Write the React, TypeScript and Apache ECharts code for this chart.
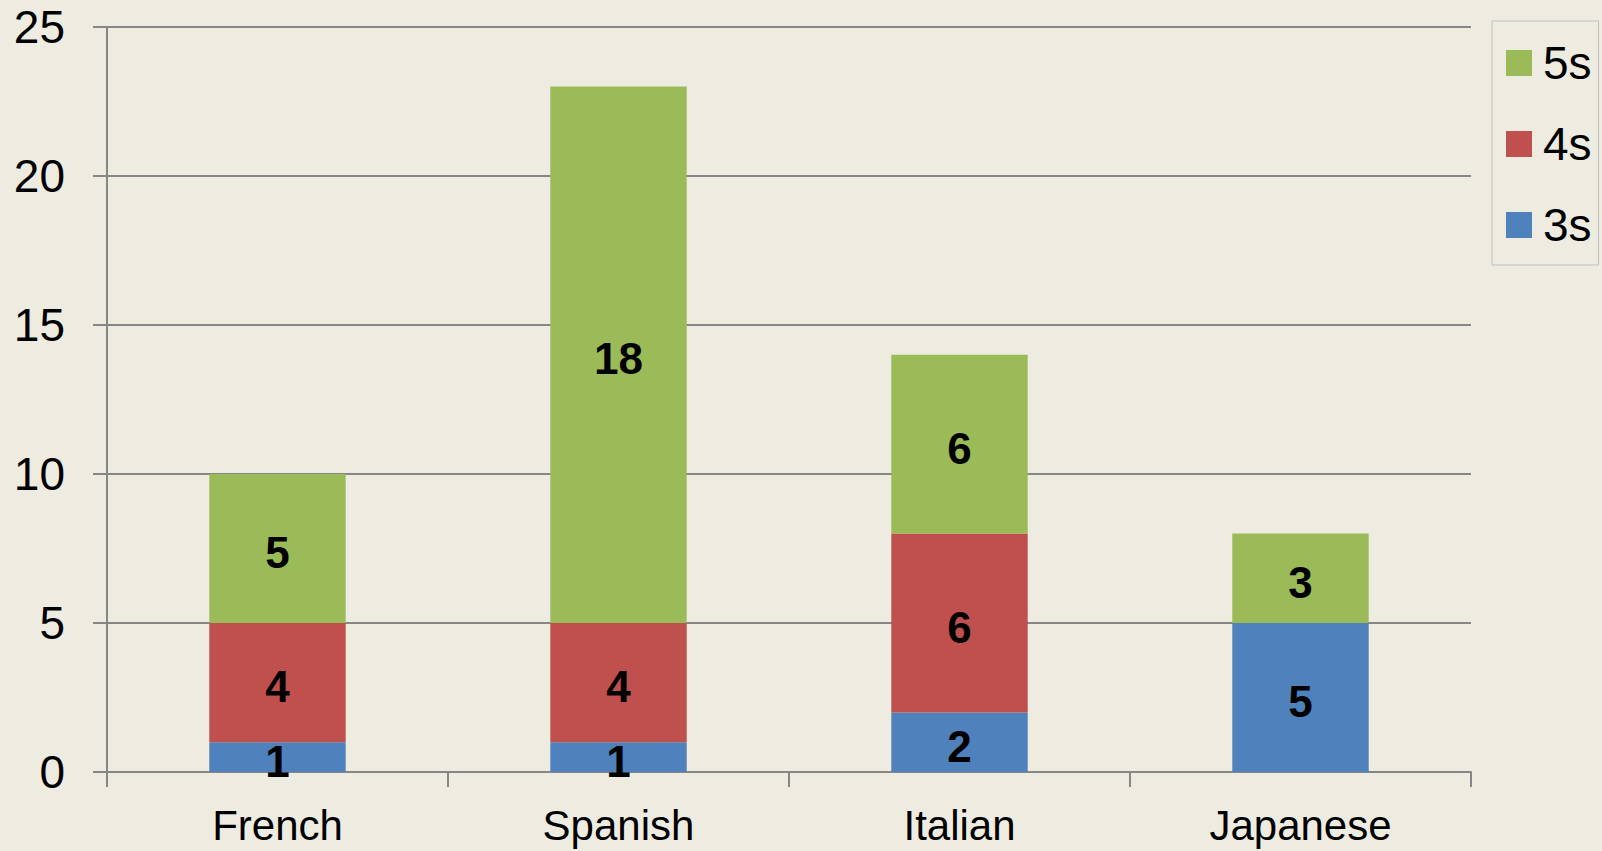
import React, { useEffect, useRef } from "react";
import * as echarts from "echarts";

const categories = ["French", "Spanish", "Italian", "Japanese"];
const seriesNames = ["3s", "4s", "5s"];
const values3s: (number | null)[] = [1, 1, 2, 5];
const values4s: (number | null)[] = [4, 4, 6, null];
const values5s: (number | null)[] = [5, 18, 6, 3];
const legendOrder = ["5s", "4s", "3s"];
const colors = ["#4F81BD", "#C0504D", "#9BBB59"];

const FONT = "'Liberation Sans', Arial, sans-serif";

export default function App() {
  const ref = useRef<HTMLDivElement>(null);
  useEffect(() => {
    if (!ref.current) return;
    const chart = echarts.init(ref.current, undefined, { renderer: "svg" });
    const data = [values3s, values4s, values5s];
    const series = seriesNames.map((name, i) => ({
      name,
      type: "bar" as const,
      stack: "total",
      barCategoryGap: "60%",
      itemStyle: { color: colors[i] },
      label: {
        show: true,
        position: "inside" as const,
        color: "#000",
        fontWeight: "bold" as const,
        fontSize: 44,
        fontFamily: FONT,
        offset: [0, 4],
        formatter: (p: any) => (p.value == null ? "" : String(p.value)),
      },
      data: data[i],
    }));
    chart.setOption({
      animation: false,
      backgroundColor: "#EEECE1",
      textStyle: { fontFamily: FONT },
      grid: { left: 107, right: 131, top: 27, bottom: 79, containLabel: false },
      legend: {
        orient: "vertical",
        left: 1492,
        top: 21,
        padding: [19, 7, 17, 14],
        borderColor: "#BFBFBF",
        borderWidth: 1,
        itemWidth: 26,
        itemHeight: 26,
        itemGap: 35,
        icon: "rect",
        data: legendOrder,
        textStyle: {
          fontSize: 46,
          lineHeight: 46,
          color: "#000",
          fontFamily: FONT,
          padding: [0, 0, 0, 6],
        },
      },
      xAxis: {
        type: "category",
        data: categories,
        axisLine: { show: true, lineStyle: { color: "#868686", width: 2 } },
        axisTick: { show: true, length: 15, lineStyle: { color: "#868686", width: 2 } },
        axisLabel: { fontSize: 42, color: "#000", margin: 32, fontFamily: FONT },
      },
      yAxis: {
        type: "value",
        min: 0,
        max: 25,
        interval: 5,
        axisLine: { show: true, lineStyle: { color: "#868686", width: 2 } },
        axisTick: { show: true, length: 14, lineStyle: { color: "#868686", width: 2 } },
        splitLine: { show: true, lineStyle: { color: "#868686", width: 2 } },
        axisLabel: { fontSize: 46, color: "#000", margin: 42, fontFamily: FONT },
      },
      series,
    });
    return () => chart.dispose();
  }, []);
  return (
    <div
      ref={ref}
      style={{ position: "fixed", left: 0, top: 0, width: 1602, height: 851 }}
    />
  );
}
